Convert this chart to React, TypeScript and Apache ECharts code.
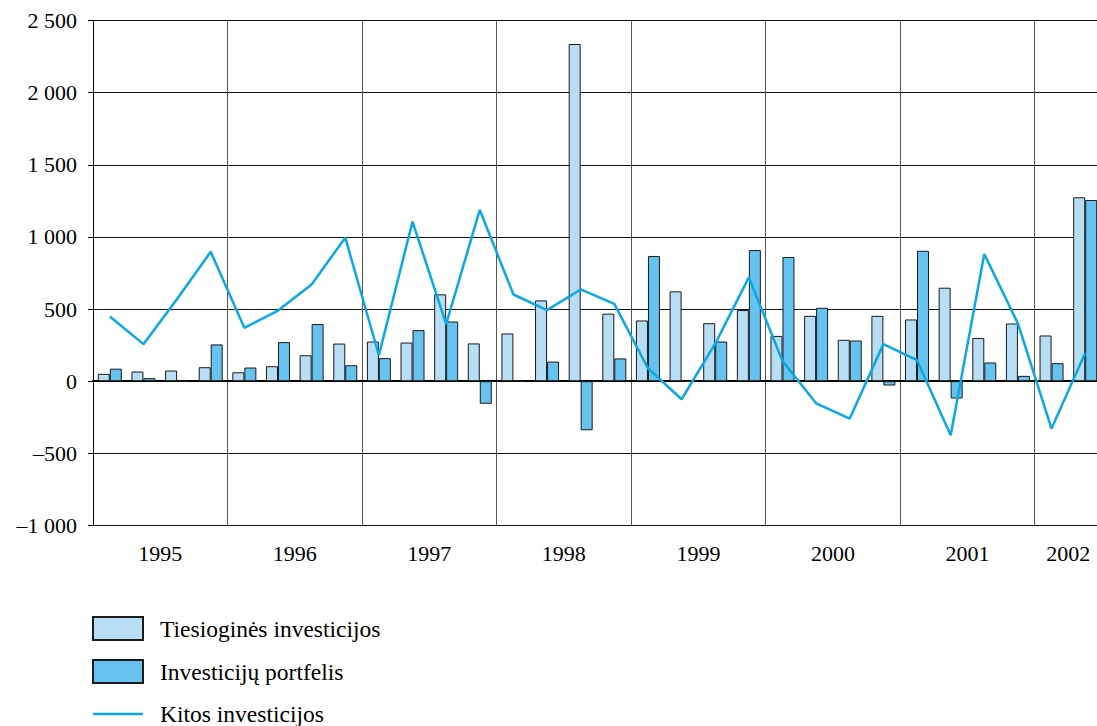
import React, { useEffect, useRef } from "react";
import * as echarts from "echarts";

const years = ["1995", "1996", "1997", "1998", "1999", "2000", "2001", "2002"];
const quartersPerYear = [4, 4, 4, 4, 4, 4, 4, 2];

const directInv = [
  51, 67, 74, 97,
  62, 104, 180, 261,
  275, 268, 602, 262,
  331, 560, 2337, 468,
  421, 623, 402, 493,
  314, 453, 287, 453,
  428, 648, 300, 400,
  317, 1275,
];
const portfolioInv = [
  87, 21, 3, 255,
  95, 271, 396, 111,
  160, 354, 414, -156,
  5, 136, -340, 158,
  868, -4, 275, 909,
  861, 509, 282, -30,
  904, -120, 130, 37,
  125, 1256,
];
const otherInv = [
  448, 257, 570, 897,
  370, 490, 671, 995,
  180, 1106, 396, 1187,
  601, 493, 636, 536,
  90, -125, 260, 720,
  140, -153, -259, 257,
  146, -375, 881, 400,
  -328, 196,
];

const seriesNames = ["Tiesioginės investicijos", "Investicijų portfelis", "Kitos investicijos"];

const FONT = "Liberation Serif";
const LIGHT = "#b8def6";
const DARK = "#66c3ef";
const LINE = "#0aa8e4";

export default function App() {
  const ref = useRef<HTMLDivElement>(null);
  useEffect(() => {
    if (!ref.current) return;
    const chart = echarts.init(ref.current, undefined, { renderer: "svg" });

    const categories: string[] = [];
    const boundaries = new Set<number>();
    const yearCenters: Record<number, string> = {};
    let idx = 0;
    years.forEach((y, i) => {
      boundaries.add(idx);
      yearCenters[idx + quartersPerYear[i] / 2] = y;
      for (let q = 1; q <= quartersPerYear[i]; q++) categories.push(`${y} Q${q}`);
      idx += quartersPerYear[i];
    });

    chart.setOption({
      animation: false,
      textStyle: { fontFamily: FONT, color: "#000" },
      grid: {
        left: 93,
        top: 20.5,
        right: -5,
        bottom: 200.5,
        containLabel: false,
        outerBoundsMode: "none",
      },
      legend: {
        left: 92,
        top: 616,
        height: 120,
        padding: 0,
        orient: "vertical",
        itemWidth: 50,
        itemHeight: 23,
        itemGap: 18,
        textStyle: { fontFamily: FONT, fontSize: 23.5, color: "#000", padding: [0, 0, 0, 12] },
        data: [
          { name: seriesNames[0], icon: "rect" },
          { name: seriesNames[1], icon: "rect" },
          {
            name: seriesNames[2],
            icon: "path://M0,21 L50,21 L50,23.5 L0,23.5 Z",
            itemStyle: { color: LINE, borderWidth: 0 },
          },
        ],
      },
      xAxis: [
        {
          type: "category",
          data: categories,
          boundaryGap: true,
          position: "bottom",
          axisLine: { onZero: true, lineStyle: { color: "#000", width: 2 } },
          axisTick: { show: false },
          axisLabel: { show: false },
          splitLine: {
            show: true,
            interval: (i: number) => boundaries.has(i),
            lineStyle: { color: "#555", width: 1 },
          },
        },
        {
          type: "value",
          min: 0,
          max: 30,
          interval: 1,
          position: "bottom",
          axisLine: { show: false, onZero: false },
          axisTick: { show: false },
          splitLine: { show: false },
          axisLabel: {
            margin: 17,
            fontFamily: FONT,
            fontSize: 22,
            color: "#000",
            formatter: (v: number) => yearCenters[v] || "",
          },
        },
      ],
      yAxis: [
        {
          type: "value",
          min: -1000,
          max: 2500,
          interval: 500,
          position: "left",
          axisLine: { show: true, onZero: false, lineStyle: { color: "#000", width: 1 } },
          axisTick: { show: true, inside: false, length: 5, lineStyle: { color: "#000" } },
          axisLabel: {
            show: true,
            margin: 16,
            fontFamily: FONT,
            fontSize: 22,
            color: "#000",
            formatter: (v: number) => {
              const s = Math.abs(v).toString().replace(/\B(?=(\d{3})+(?!\d))/g, " ");
              return (v < 0 ? "–" : "") + s;
            },
          },
          splitLine: { show: true, lineStyle: { color: "#111", width: 1 } },
        },
      ],
      series: [
        {
          name: seriesNames[0],
          type: "bar",
          xAxisIndex: 0,
          data: directInv,
          barWidth: 12,
          barGap: "0%",
          itemStyle: { color: LIGHT, borderColor: "#1a1a1a", borderWidth: 1 },
        },
        {
          name: seriesNames[1],
          type: "bar",
          xAxisIndex: 0,
          data: portfolioInv,
          barWidth: 12,
          barGap: "0%",
          itemStyle: { color: DARK, borderColor: "#1a1a1a", borderWidth: 1 },
        },
        {
          name: seriesNames[2],
          type: "line",
          xAxisIndex: 0,
          data: otherInv,
          symbol: "none",
          z: 5,
          lineStyle: { color: LINE, width: 2.5 },
          itemStyle: { color: LINE },
        },
      ],
    });
    return () => chart.dispose();
  }, []);
  return (
    <div
      ref={ref}
      style={{ position: "fixed", left: 0, top: 0, width: 1097, height: 726, background: "#fff" }}
    />
  );
}
